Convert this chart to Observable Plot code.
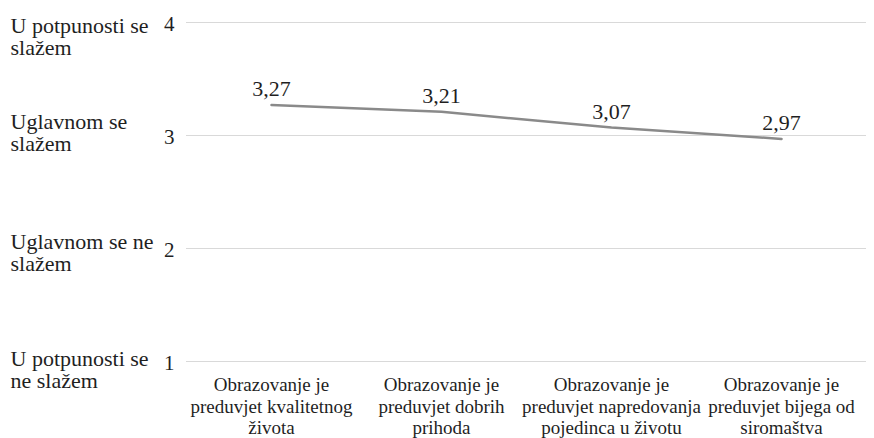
<!DOCTYPE html>
<html>
<head>
<meta charset="utf-8">
<script src="https://cdn.jsdelivr.net/npm/d3@7"></script>
<script src="https://cdn.jsdelivr.net/npm/@observablehq/plot@0.6"></script>
<style>
  html, body { margin: 0; padding: 0; background: #fff; }
  #chart svg { display: block; }
  #chart svg text { font-family: "Liberation Serif", "DejaVu Serif", serif; }
</style>
</head>
<body>
<div id="chart"></div>
<script>
// Statements about education (x categories)
const categories = [
  "Obrazovanje je\npreduvjet kvalitetnog\nživota",
  "Obrazovanje je\npreduvjet dobrih\nprihoda",
  "Obrazovanje je\npreduvjet napredovanja\npojedinca u životu",
  "Obrazovanje je\npreduvjet bijega od\nsiromaštva"
];
// Mean agreement per statement
const means = [3.27, 3.21, 3.07, 2.97];
// Agreement scale (y ticks) and their verbal anchors
const scaleTicks = [1, 2, 3, 4];
const scaleLabels = [
  "U potpunosti se\nne slažem",
  "Uglavnom se ne\nslažem",
  "Uglavnom se\nslažem",
  "U potpunosti se\nslažem"
];

const data = categories.map((c, i) => ({category: c, mean: means[i]}));

// vertical nudge of each verbal anchor's first line relative to its gridline
const anchorNudge = {1: 4, 2: 0, 3: -7, 4: 10};

const fmt = v => d3.format(".2f")(v).replace(".", ",");
const serif = "Liberation Serif";
const ink = "#1f1f1f";

const anchorMarks = scaleTicks.map((t, i) => Plot.text([t], {
  y: d => d, text: () => scaleLabels[i], frameAnchor: "left", textAnchor: "start",
  lineAnchor: "top", lineHeight: 1.0, dx: -176, dy: anchorNudge[t] - 15.5,
  fontSize: 22, fill: ink, fontFamily: serif
}));

const chart = Plot.plot({
  width: 874,
  height: 438,
  marginLeft: 186,
  marginRight: 8,
  marginTop: 22,
  marginBottom: 77,
  style: {fontFamily: serif, color: ink, background: "#fff", overflow: "visible"},
  x: {type: "point", domain: categories, padding: 0.5, axis: null},
  y: {domain: [1, 4], axis: null, label: null},
  marks: [
    Plot.gridY(scaleTicks, {stroke: "#d9d9d9", strokeOpacity: 1, strokeWidth: 1}),
    Plot.axisY(scaleTicks, {
      tickSize: 0, tickPadding: 12, fontSize: 21, fill: ink, fontFamily: serif,
      tickFormat: d => String(d), textAnchor: "end", label: null, dy: 2
    }),
    ...anchorMarks,
    Plot.line(data, {x: "category", y: "mean", stroke: "#8a8a8a", strokeWidth: 2.5}),
    Plot.text(data, {
      x: "category", y: "mean", text: d => fmt(d.mean),
      lineAnchor: "bottom", dy: -9, fontSize: 22, fill: ink, fontFamily: serif
    }),
    Plot.text(categories, {
      x: d => d, text: d => d, frameAnchor: "bottom", lineAnchor: "top",
      lineHeight: 1.13, dy: 14.5, fontSize: 19, fill: ink, fontFamily: serif
    })
  ]
});

document.getElementById("chart").appendChild(chart);
</script>
</body>
</html>
